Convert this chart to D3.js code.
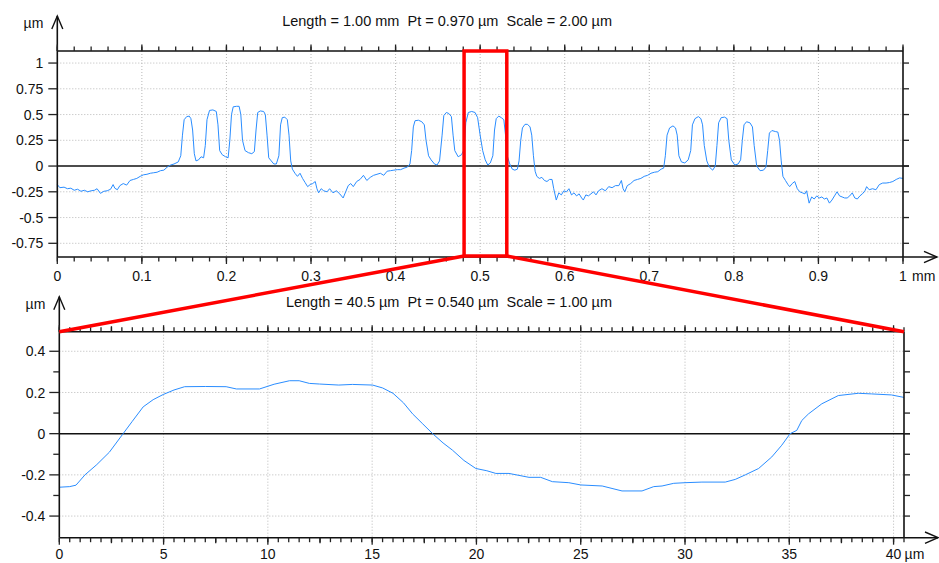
<!DOCTYPE html>
<html>
<head>
<meta charset="utf-8">
<script src="https://cdn.jsdelivr.net/npm/d3@7"></script>
<style>
body { margin: 0; background: #fff; }
svg { display: block; font-family: "Liberation Sans", Arial, sans-serif; }
</style>
</head>
<body>
<svg id="chart" width="939" height="563"></svg>
<script>
// ---- data ----
// full profile, x in mm, height in um
var topProfile = [
  [0.000,-0.18],[0.003,-0.21],[0.008,-0.205],[0.012,-0.22],[0.016,-0.215],[0.020,-0.235],[0.024,-0.225],[0.028,-0.245],
  [0.032,-0.235],[0.036,-0.25],[0.040,-0.24],[0.044,-0.235],[0.047,-0.22],[0.051,-0.265],[0.055,-0.245],[0.059,-0.24],
  [0.063,-0.225],[0.066,-0.18],[0.068,-0.215],[0.071,-0.23],[0.074,-0.19],[0.078,-0.17],[0.082,-0.185],[0.086,-0.14],
  [0.090,-0.13],[0.094,-0.12],[0.098,-0.10],[0.102,-0.085],[0.106,-0.08],[0.110,-0.07],[0.114,-0.065],[0.118,-0.06],
  [0.122,-0.045],[0.126,-0.04],[0.130,-0.01],[0.134,0.01],[0.138,0.02],[0.143,0.04],[0.146,0.10],[0.148,0.30],
  [0.150,0.45],[0.153,0.48],[0.156,0.485],[0.158,0.46],[0.160,0.35],[0.162,0.12],[0.164,0.05],[0.167,0.06],
  [0.170,0.09],[0.173,0.08],[0.175,0.20],[0.177,0.45],[0.180,0.54],[0.184,0.545],[0.188,0.53],[0.190,0.40],
  [0.192,0.15],[0.195,0.11],[0.199,0.09],[0.202,0.08],[0.204,0.25],[0.206,0.50],[0.208,0.575],[0.212,0.58],
  [0.215,0.58],[0.217,0.50],[0.219,0.25],[0.222,0.15],[0.226,0.13],[0.230,0.12],[0.233,0.14],[0.235,0.35],
  [0.237,0.52],[0.240,0.535],[0.244,0.53],[0.246,0.50],[0.248,0.30],[0.250,0.08],[0.253,0.05],[0.256,0.02],
  [0.259,0.02],[0.262,0.10],[0.264,0.40],[0.266,0.47],[0.269,0.475],[0.272,0.45],[0.274,0.30],[0.276,0.05],
  [0.278,-0.03],[0.281,-0.07],[0.284,-0.10],[0.287,-0.07],[0.290,-0.12],[0.293,-0.16],[0.296,-0.20],[0.299,-0.18],
  [0.302,-0.17],[0.305,-0.15],[0.307,-0.22],[0.309,-0.26],[0.312,-0.22],[0.315,-0.24],[0.319,-0.25],[0.322,-0.22],
  [0.326,-0.26],[0.330,-0.24],[0.334,-0.27],[0.338,-0.31],[0.341,-0.25],[0.344,-0.19],[0.347,-0.17],[0.350,-0.20],
  [0.354,-0.15],[0.358,-0.13],[0.362,-0.09],[0.366,-0.14],[0.370,-0.11],[0.374,-0.09],[0.378,-0.08],[0.382,-0.07],
  [0.386,-0.09],[0.390,-0.05],[0.394,-0.045],[0.398,-0.04],[0.402,-0.035],[0.406,-0.035],[0.410,-0.02],[0.414,-0.01],
  [0.417,0.02],[0.419,0.15],[0.421,0.38],[0.423,0.44],[0.427,0.445],[0.431,0.43],[0.434,0.40],[0.436,0.25],
  [0.439,0.10],[0.442,0.06],[0.446,0.02],[0.449,0.01],[0.452,0.05],[0.455,0.30],[0.457,0.49],[0.460,0.52],
  [0.463,0.51],[0.466,0.48],[0.468,0.30],[0.470,0.15],[0.474,0.09],[0.478,0.11],[0.481,0.16],[0.483,0.42],
  [0.486,0.52],[0.490,0.53],[0.494,0.52],[0.497,0.47],[0.500,0.30],[0.503,0.15],[0.506,0.06],[0.509,0.01],
  [0.512,0.03],[0.515,0.10],[0.517,0.35],[0.519,0.46],[0.522,0.485],[0.525,0.47],[0.528,0.45],[0.530,0.30],
  [0.532,0.10],[0.535,0.02],[0.538,-0.03],[0.541,-0.04],[0.544,-0.03],[0.546,0.05],[0.548,0.25],[0.550,0.37],
  [0.553,0.405],[0.556,0.405],[0.559,0.38],[0.561,0.30],[0.563,0.10],[0.565,-0.05],[0.567,-0.10],[0.570,-0.12],
  [0.573,-0.11],[0.576,-0.14],[0.579,-0.15],[0.582,-0.13],[0.585,-0.13],[0.587,-0.22],[0.590,-0.33],[0.593,-0.26],
  [0.596,-0.28],[0.599,-0.24],[0.602,-0.25],[0.605,-0.22],[0.608,-0.28],[0.611,-0.26],[0.614,-0.29],[0.617,-0.27],
  [0.620,-0.31],[0.622,-0.33],[0.625,-0.28],[0.628,-0.29],[0.631,-0.27],[0.634,-0.25],[0.637,-0.28],[0.640,-0.24],
  [0.644,-0.22],[0.648,-0.24],[0.652,-0.20],[0.656,-0.21],[0.660,-0.19],[0.664,-0.19],[0.667,-0.14],[0.669,-0.22],
  [0.671,-0.25],[0.674,-0.19],[0.678,-0.17],[0.682,-0.14],[0.686,-0.13],[0.690,-0.12],[0.694,-0.10],[0.698,-0.09],
  [0.702,-0.07],[0.706,-0.06],[0.710,-0.055],[0.714,-0.03],[0.717,-0.02],[0.719,0.10],[0.721,0.30],[0.724,0.37],
  [0.728,0.39],[0.731,0.37],[0.733,0.30],[0.735,0.10],[0.738,0.04],[0.742,0.03],[0.746,0.06],[0.749,0.15],
  [0.751,0.40],[0.754,0.46],[0.758,0.48],[0.761,0.46],[0.763,0.40],[0.765,0.20],[0.768,0.05],[0.771,-0.01],
  [0.775,-0.04],[0.778,0.00],[0.780,0.20],[0.782,0.42],[0.785,0.47],[0.789,0.475],[0.792,0.46],[0.794,0.25],
  [0.797,0.06],[0.801,0.01],[0.805,0.02],[0.808,0.06],[0.810,0.25],[0.812,0.40],[0.815,0.43],[0.819,0.42],
  [0.822,0.38],[0.824,0.20],[0.827,0.00],[0.831,-0.045],[0.835,-0.04],[0.838,-0.01],[0.840,0.15],[0.842,0.32],
  [0.845,0.345],[0.849,0.335],[0.852,0.33],[0.854,0.25],[0.856,0.05],[0.858,-0.10],[0.861,-0.14],[0.864,-0.18],
  [0.866,-0.20],[0.869,-0.17],[0.872,-0.15],[0.875,-0.22],[0.878,-0.25],[0.881,-0.26],[0.884,-0.27],[0.886,-0.24],
  [0.889,-0.36],[0.892,-0.30],[0.895,-0.32],[0.898,-0.29],[0.901,-0.31],[0.904,-0.30],[0.907,-0.32],[0.910,-0.31],
  [0.913,-0.36],[0.916,-0.33],[0.919,-0.29],[0.922,-0.25],[0.925,-0.29],[0.928,-0.30],[0.931,-0.31],[0.934,-0.31],
  [0.937,-0.29],[0.940,-0.26],[0.943,-0.31],[0.946,-0.32],[0.949,-0.29],[0.952,-0.27],[0.955,-0.24],[0.957,-0.20],
  [0.960,-0.23],[0.964,-0.22],[0.968,-0.23],[0.972,-0.18],[0.976,-0.165],[0.980,-0.165],[0.984,-0.16],[0.988,-0.15],
  [0.992,-0.13],[0.996,-0.115],[1.000,-0.12]
];

// zoomed profile, x in um, height in um
var zoomProfile = [
  [0.0,-0.26],[0.5,-0.257],[0.8,-0.25],[1.23,-0.2],[1.8,-0.15],[2.4,-0.09],[3.06,0.0],[3.5,0.06],[4.02,0.13],
  [4.5,0.165],[4.98,0.19],[5.5,0.212],[6.01,0.228],[7.0,0.229],[8.0,0.228],[8.49,0.217],[9.6,0.217],[10.3,0.24],
  [11.04,0.257],[11.5,0.257],[11.99,0.244],[12.47,0.241],[13.4,0.236],[14.05,0.239],[15.02,0.236],[15.5,0.222],
  [16.0,0.196],[16.5,0.15],[16.94,0.096],[17.4,0.05],[17.9,0.0],[18.4,-0.045],[18.85,-0.08],[19.4,-0.13],
  [19.97,-0.169],[20.5,-0.18],[20.93,-0.193],[21.56,-0.193],[22.52,-0.212],[23.08,-0.212],[23.64,-0.233],
  [24.43,-0.238],[25.0,-0.249],[26.03,-0.254],[26.98,-0.278],[27.94,-0.278],[28.5,-0.257],[28.9,-0.254],
  [29.46,-0.241],[30.0,-0.238],[30.81,-0.235],[31.93,-0.235],[32.41,-0.222],[32.89,-0.2],[33.53,-0.169],
  [34.16,-0.113],[34.64,-0.056],[35.04,0.0],[35.36,0.016],[35.6,0.064],[35.92,0.096],[36.56,0.145],
  [37.35,0.185],[38.31,0.196],[38.95,0.193],[39.9,0.188],[40.5,0.176]
];

var zoomWindow = [0.481, 0.5315]; // mm, the red box on the upper profile

var topYTicks = [1, 0.75, 0.5, 0.25, 0, -0.25, -0.5, -0.75];
var topXTicks = [0, 0.1, 0.2, 0.3, 0.4, 0.5, 0.6, 0.7, 0.8, 0.9, 1];
var zoomYTicks = [0.4, 0.2, 0, -0.2, -0.4];
var zoomYMinor = [0.3, 0.1, -0.1, -0.3];
var zoomXTicks = [0, 5, 10, 15, 20, 25, 30, 35, 40];

var topTitle = "Length = 1.00 mm  Pt = 0.970 \u00b5m  Scale = 2.00 \u00b5m";
var zoomTitle = "Length = 40.5 \u00b5m  Pt = 0.540 \u00b5m  Scale = 1.00 \u00b5m";

var svg = d3.select("#chart");

function ticks(g, vals, scale, horiz, at, len, w) {
  g.selectAll(null).data(vals).enter().append("line")
    .attr("x1", function(d) { return horiz ? scale(d) : at; })
    .attr("x2", function(d) { return horiz ? scale(d) : at + len; })
    .attr("y1", function(d) { return horiz ? at : scale(d); })
    .attr("y2", function(d) { return horiz ? at + len : scale(d); })
    .attr("stroke", "#222").attr("stroke-width", w || 1.3);
}

function panel(o) {
  var x = d3.scaleLinear().domain(o.xDomain).range([o.left, o.right]);
  var y = d3.scaleLinear().domain(o.yDomain).range([o.bottom, o.top]);
  var g = svg.append("g");

  // dotted grid
  g.selectAll(null).data(o.xTicks.filter(function(d) { return x(d) > o.left + 1 && x(d) < o.right - 1; }))
    .enter().append("line")
    .attr("x1", function(d) { return x(d); }).attr("x2", function(d) { return x(d); })
    .attr("y1", o.top).attr("y2", o.bottom)
    .attr("stroke", "#b8b8b8").attr("stroke-dasharray", "1,2");
  g.selectAll(null).data(o.yTicks.filter(function(d) { return d !== 0; }))
    .enter().append("line")
    .attr("x1", o.left).attr("x2", o.right)
    .attr("y1", function(d) { return y(d); }).attr("y2", function(d) { return y(d); })
    .attr("stroke", "#b8b8b8").attr("stroke-dasharray", "1,2");

  // zero line
  g.append("line").attr("x1", o.left).attr("x2", o.right + 6)
    .attr("y1", y(0)).attr("y2", y(0)).attr("stroke", "#111").attr("stroke-width", 1.5);

  // profile
  var line = d3.line().x(function(d) { return x(d[0]); }).y(function(d) { return y(d[1]); });
  g.append("path").datum(o.data).attr("d", line)
    .attr("fill", "none").attr("stroke", "#2a8dff").attr("stroke-width", 1);

  // frame
  g.append("line").attr("x1", o.left).attr("x2", o.right).attr("y1", o.top).attr("y2", o.top)
    .attr("stroke", "#111").attr("stroke-width", 1.6);
  g.append("line").attr("x1", o.right).attr("x2", o.right).attr("y1", o.top).attr("y2", o.bottom)
    .attr("stroke", "#111").attr("stroke-width", 1.6);
  // y axis with arrow
  g.append("line").attr("x1", o.left).attr("x2", o.left).attr("y1", o.bottom).attr("y2", o.top - 35)
    .attr("stroke", "#111").attr("stroke-width", 1.6);
  g.append("path")
    .attr("d", "M" + (o.left - 5.5) + "," + (o.top - 22) + "L" + o.left + "," + (o.top - 35) + "L" + (o.left + 5.5) + "," + (o.top - 22))
    .attr("fill", "none").attr("stroke", "#111").attr("stroke-width", 1.4);
  // x axis with arrow
  g.append("line").attr("x1", o.left).attr("x2", o.right + 34).attr("y1", o.bottom).attr("y2", o.bottom)
    .attr("stroke", "#111").attr("stroke-width", 1.6);
  g.append("path")
    .attr("d", "M" + (o.right + 21) + "," + (o.bottom - 5.7) + "L" + (o.right + 34) + "," + o.bottom + "L" + (o.right + 21) + "," + (o.bottom + 5.7))
    .attr("fill", "none").attr("stroke", "#111").attr("stroke-width", 1.4);

  // ticks
  ticks(g, o.xMinor, x, true, o.top, -4.5);
  ticks(g, o.xMinor, x, true, o.bottom, 4.5);
  if (o.xMid) {
    ticks(g, o.xMid, x, true, o.top, -5.5);
    ticks(g, o.xMid, x, true, o.bottom, 5.5);
  }
  ticks(g, o.xTicks, x, true, o.top, -6.5);
  ticks(g, o.xTicks, x, true, o.bottom, 7);
  ticks(g, o.yTicks, y, false, o.left, -o.yTickLen);
  ticks(g, o.yTicks, y, false, o.right, 6);
  if (o.yMinor) {
    ticks(g, o.yMinor, y, false, o.left, -6);
    ticks(g, o.yMinor, y, false, o.right, 6);
  }

  // labels
  g.selectAll(null).data(o.yTicks).enter().append("text")
    .attr("x", o.left - 14).attr("y", function(d) { return y(d); }).attr("dy", "0.36em")
    .attr("text-anchor", "end").attr("font-size", 14).attr("fill", "#111")
    .text(function(d) { return String(d); });
  g.selectAll(null).data(o.xTicks).enter().append("text")
    .attr("x", function(d) { return x(d); }).attr("y", o.bottom + o.xLabelGap)
    .attr("text-anchor", "middle").attr("font-size", 14).attr("fill", "#111")
    .text(function(d) { return String(d); });
  var last = o.xTicks[o.xTicks.length - 1];
  g.append("text").attr("x", x(last) + o.unitGap).attr("y", o.bottom + o.xLabelGap)
    .attr("font-size", 14).attr("fill", "#111").text(o.xUnit);
  g.append("text").attr("x", o.left - 14).attr("y", o.top - 23)
    .attr("text-anchor", "end").attr("font-size", 14).attr("fill", "#111").text("\u00b5m");
  g.append("text").attr("x", o.titleEnd).attr("y", o.top - 25)
    .attr("text-anchor", "end").attr("font-size", 14.5).attr("fill", "#111")
    .style("white-space", "pre").text(o.title);

  return { x: x, y: y };
}

var topPanel = panel({
  left: 57.3, right: 903, top: 51, bottom: 257,
  xDomain: [0, 1], yDomain: [-0.883, 1.117],
  xTicks: topXTicks, xMinor: d3.range(0, 1.0001, 0.02), xMid: null,
  yTicks: topYTicks, yMinor: null, yTickLen: 9,
  data: topProfile, title: topTitle, titleEnd: 612, xUnit: "mm",
  xLabelGap: 23.5, unitGap: 9
});

var zoomPanel = panel({
  left: 59.3, right: 904, top: 331.7, bottom: 537.7,
  xDomain: [0, 40.5], yDomain: [-0.505, 0.495],
  xTicks: zoomXTicks, xMinor: d3.range(0, 40.6, 0.5), xMid: d3.range(2.5, 40.6, 5),
  yTicks: zoomYTicks, yMinor: zoomYMinor, yTickLen: 10,
  data: zoomProfile, title: zoomTitle, titleEnd: 612, xUnit: "\u00b5m",
  xLabelGap: 21, unitGap: 11
});

// red zoom box and connectors
var bx0 = topPanel.x(zoomWindow[0]), bx1 = topPanel.x(zoomWindow[1]);
var by0 = topPanel.y.range()[1], by1 = topPanel.y.range()[0] - 1;
var red = svg.append("g").attr("fill", "none").attr("stroke", "#ff0000").attr("stroke-width", 3.5);
red.append("rect").attr("x", bx0).attr("y", by0).attr("width", bx1 - bx0).attr("height", by1 - by0);
red.append("line").attr("x1", bx0).attr("y1", by1).attr("x2", zoomPanel.x(0)).attr("y2", zoomPanel.y.range()[1]);
red.append("line").attr("x1", bx1).attr("y1", by1).attr("x2", zoomPanel.x(40.5)).attr("y2", zoomPanel.y.range()[1]);
</script>
</body>
</html>
